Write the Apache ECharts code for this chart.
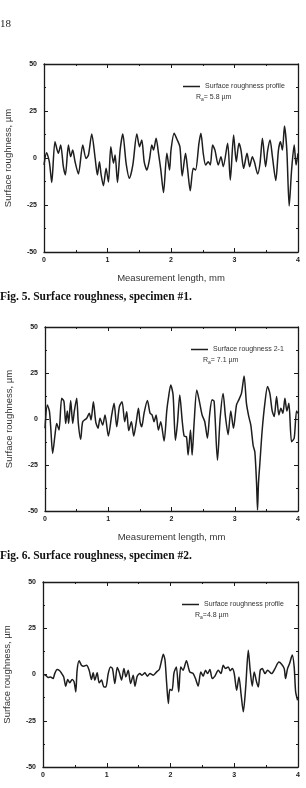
<!DOCTYPE html>
<html>
<head>
<meta charset="utf-8">
<script src="https://cdn.jsdelivr.net/npm/echarts@6/dist/echarts.min.js"></script>
<style>
  html, body { margin: 0; padding: 0; background: #fff; }
  #chart { width: 306px; height: 788px; }
</style>
</head>
<body>
<div id="chart"></div>
<script>
// measured profiles, [length mm, height µm]
const profile1 = [[0,-3.7],[0.04,2.8],[0.084,-2],[0.122,-13],[0.173,8.7],[0.226,2.5],[0.263,6.9],[0.305,-4.6],[0.337,-9],[0.384,6.9],[0.42,0.7],[0.452,4.2],[0.489,-2],[0.542,-8.5],[0.61,6.9],[0.663,-0.2],[0.7,1.6],[0.752,12.8],[0.805,0],[0.841,-9],[0.873,-2],[0.9,-9],[0.936,-14.7],[0.978,-5.5],[1.015,-12.8],[1.052,6],[1.094,-2.8],[1.12,1.6],[1.157,-13],[1.199,4.2],[1.241,12.8],[1.293,-2.8],[1.346,-10.8],[1.399,-3.7],[1.462,12.8],[1.504,6],[1.54,9.6],[1.578,-2],[1.62,-6.4],[1.66,-1],[1.698,6.9],[1.724,4.2],[1.766,10.5],[1.803,2.5],[1.84,-6.4],[1.882,-18.4],[1.935,2.5],[1.977,-6.4],[2.0,4.2],[2.05,13.1],[2.087,10.5],[2.14,6],[2.176,-9.6],[2.229,2.5],[2.26,-5.5],[2.303,-17.4],[2.35,-5.5],[2.387,-6.4],[2.44,7.8],[2.471,13.1],[2.508,2.5],[2.545,-3.7],[2.587,-2],[2.619,-3.7],[2.655,6.9],[2.692,4.2],[2.745,-3.7],[2.787,0.7],[2.823,-4.6],[2.892,7.8],[2.934,-11.7],[2.986,12.2],[3.028,-2],[3.07,7.8],[3.102,4.2],[3.144,-5.5],[3.197,2.5],[3.239,-4.6],[3.281,0.7],[3.313,-2],[3.365,-8.5],[3.402,-2.8],[3.44,10.5],[3.49,-4.6],[3.523,4.2],[3.56,9.6],[3.597,0.7],[3.65,-12],[3.692,4.2],[3.724,8.7],[3.755,4.2],[3.787,17],[3.824,4.2],[3.861,-25.5],[3.9,-6],[3.94,6.9],[3.97,-3.7],[4.0,2.5]];

const profile2 = [[0,-5],[0.037,7.6],[0.069,4.4],[0.09,-4.2],[0.121,-18.7],[0.158,-8.7],[0.185,-2.4],[0.222,-6],[0.264,11.3],[0.3,9.5],[0.327,-2.4],[0.353,4.4],[0.374,-2.4],[0.406,10],[0.438,-2.4],[0.464,4.4],[0.501,11.3],[0.527,-2.4],[0.564,-11],[0.596,-1.5],[0.659,0.4],[0.7,3.1],[0.728,-0.5],[0.765,9.4],[0.802,-1.5],[0.838,-5],[0.87,0.4],[0.912,-3.3],[0.949,2.2],[1.002,-9.3],[1.055,2.2],[1.092,8.5],[1.134,-4.2],[1.176,6.7],[1.218,9.4],[1.26,-1.5],[1.292,3.9],[1.324,-6.3],[1.366,-1.5],[1.403,-9.3],[1.44,-2.4],[1.477,5.8],[1.503,-1.5],[1.53,-4.2],[1.566,3.1],[1.619,10],[1.661,3.1],[1.693,2.2],[1.724,-1.5],[1.756,2.2],[1.793,-6],[1.83,-1.5],[1.883,-12],[1.925,4.4],[1.951,11.3],[1.988,18.5],[2.025,13.1],[2.062,-11.5],[2.094,-2.4],[2.131,13.1],[2.168,-0.5],[2.2,-9.3],[2.236,-9.6],[2.263,-19.6],[2.3,-6],[2.326,-19.6],[2.357,-2.4],[2.4,15.8],[2.447,8.5],[2.484,2.2],[2.526,-1.5],[2.568,-10.4],[2.605,3.1],[2.642,10.4],[2.674,9.5],[2.727,-22.4],[2.769,0.4],[2.816,13.9],[2.853,1.3],[2.895,-8.5],[2.937,4.4],[2.98,-5],[3.027,7.6],[3.064,10.4],[3.106,13.9],[3.148,23.4],[3.185,8.5],[3.222,1.3],[3.254,-3.3],[3.291,-14.4],[3.318,-18],[3.345,-35],[3.36,-49.5],[3.375,-35],[3.397,-24.2],[3.434,-6],[3.476,8.5],[3.518,17.6],[3.555,13.9],[3.592,4.4],[3.624,1.3],[3.661,12.2],[3.698,2.2],[3.729,5.8],[3.761,3.1],[3.793,11.3],[3.824,4.4],[3.856,8.5],[3.898,-12.4],[3.94,-10.4],[3.977,4.4],[4.0,3.1]];

const profile3 = [[0,0],[0.042,-0.4],[0.079,-1.6],[0.116,-1.3],[0.158,-2.2],[0.184,0.5],[0.221,2.7],[0.262,2],[0.294,0.5],[0.325,-1.3],[0.357,-6.3],[0.388,-2.7],[0.42,-4.5],[0.457,-2.7],[0.488,-4],[0.514,-9.4],[0.535,2.3],[0.567,7.4],[0.603,5],[0.64,4.5],[0.682,5],[0.724,2.3],[0.76,-2.7],[0.787,0.9],[0.813,-3],[0.85,0.9],[0.881,-4.5],[0.918,-3],[0.955,-6.7],[0.986,-6.7],[1.023,0.5],[1.059,4.1],[1.09,3.2],[1.127,-4.9],[1.164,3.8],[1.195,1.4],[1.232,-3],[1.269,3.2],[1.3,-1.3],[1.337,2.3],[1.374,-4.9],[1.415,-0.4],[1.442,-6.3],[1.478,-0.9],[1.52,0.5],[1.552,-0.4],[1.599,0.9],[1.636,-0.9],[1.678,0.5],[1.73,-0.4],[1.782,1.4],[1.824,2.7],[1.861,7.7],[1.887,11],[1.914,7.7],[1.94,-4.9],[1.966,-15.7],[1.99,-8],[2.024,-8.6],[2.055,0.9],[2.092,4.1],[2.129,-9.4],[2.16,4.1],[2.197,2.3],[2.25,7.4],[2.302,1.4],[2.355,0.5],[2.392,-2.2],[2.434,-6.3],[2.475,1.4],[2.512,-0.9],[2.549,2.3],[2.581,0.5],[2.618,2.7],[2.655,-2.2],[2.697,-0.9],[2.749,2.3],[2.791,0.5],[2.827,5],[2.864,3.2],[2.906,4.1],[2.937,2],[2.969,3.2],[3.0,0.5],[3.038,-8.5],[3.074,-1.3],[3.106,-10.3],[3.142,-20.2],[3.18,-6.7],[3.22,13.1],[3.25,2.3],[3.282,-6.3],[3.313,1.4],[3.35,-4],[3.377,-6.7],[3.408,2.3],[3.44,3.2],[3.482,0.5],[3.524,2.3],[3.586,0.5],[3.639,3.2],[3.7,6.7],[3.743,5.5],[3.784,3.2],[3.805,-2.2],[3.836,3.2],[3.868,5.9],[3.91,10.5],[3.94,4.1],[3.963,-9.4],[3.994,-13.9]];

const seriesNames = ['Surface roughness profile', 'Surface roughness 2-1', 'Surface roughness profile'];
const raValues = ['= 5.8 µm', '= 7.1 µm', '=4.8 µm'];
const captions = ['Fig. 5. Surface roughness, specimen #1.', 'Fig. 6. Surface roughness, specimen #2.'];
const xTicks = [0, 4, 1];      // min, max, step
const yTicks = [-50, 50, 25];

const grids = [
  { left: 44, top: 64, width: 254, height: 188, outerBoundsMode: 'none' },
  { left: 45, top: 327, width: 253, height: 184, outerBoundsMode: 'none' },
  { left: 43, top: 582, width: 255, height: 185, outerBoundsMode: 'none' }
];
const profiles = [profile1, profile2, profile3];
const showXName = [true, true, false];

const sans = 'Liberation Sans, Arial, sans-serif';
const serif = 'Liberation Serif, Times New Roman, serif';
const ink = '#1a1a1a';

let xAxes = [], yAxes = [], series = [], legends = [], graphics = [];

grids.forEach(function(g, i) {
  const tick = { show: true, inside: true, length: 4, lineStyle: { color: ink, width: 1 } };
  const minor = { show: true, splitNumber: 2, length: 2, lineStyle: { color: ink, width: 1 } };
  const line = { show: true, onZero: false, lineStyle: { color: ink, width: 1.3 } };
  xAxes.push({
    type: 'value', gridIndex: i, min: xTicks[0], max: xTicks[1], interval: xTicks[2],
    axisLine: line, axisTick: tick, minorTick: minor, splitLine: { show: false },
    axisLabel: { fontFamily: sans, fontSize: 7, fontWeight: 'bold', color: ink, margin: 5 },
    name: showXName[i] ? 'Measurement length, mm' : '',
    nameLocation: 'middle', nameGap: 21,
    nameTextStyle: { fontFamily: sans, fontSize: 9.5, color: '#333' }
  });
  xAxes.push({
    type: 'value', gridIndex: i, position: 'top', min: xTicks[0], max: xTicks[1], interval: xTicks[2],
    axisLine: line, axisTick: tick, minorTick: minor, splitLine: { show: false },
    axisLabel: { show: false }
  });
  yAxes.push({
    type: 'value', gridIndex: i, min: yTicks[0], max: yTicks[1], interval: yTicks[2],
    axisLine: line, axisTick: tick, minorTick: minor, splitLine: { show: false },
    axisLabel: { fontFamily: sans, fontSize: 7, fontWeight: 'bold', color: ink, margin: 7 },
    name: 'Surface roughness, µm', nameLocation: 'middle', nameGap: 31,
    nameTextStyle: { fontFamily: sans, fontSize: 9.5, color: '#333' }
  });
  yAxes.push({
    type: 'value', gridIndex: i, position: 'right', min: yTicks[0], max: yTicks[1], interval: yTicks[2],
    axisLine: line, axisTick: tick, minorTick: minor, splitLine: { show: false },
    axisLabel: { show: false }
  });
  series.push({
    name: seriesNames[i], type: 'line', xAxisIndex: i * 2, yAxisIndex: i * 2,
    data: profiles[i], showSymbol: false, symbol: 'none', smooth: 0.25,
    lineStyle: { color: '#1e1e1e', width: 1.5 }, itemStyle: { color: '#1e1e1e' }
  });
  legends.push({
    data: [{ name: seriesNames[i], icon: 'rect' }], left: g.left + (i == 1 ? 146 : 139), top: g.top + 19,
    itemWidth: 17, itemHeight: 1.5, padding: 0, selectedMode: false,
    textStyle: { fontFamily: sans, fontSize: 7, color: '#333' }
  });
  graphics.push({
    type: 'text', left: g.left + (i == 1 ? 158 : 152), top: g.top + 30,
    style: {
      text: '{r|R}{s|a}{r|' + raValues[i] + '}',
      rich: {
        r: { fontFamily: sans, fontSize: 7, fill: '#333' },
        s: { fontFamily: sans, fontSize: 5, fill: '#333', padding: [4, 0, 0, 0] }
      }
    }
  });
});

graphics.push({
  type: 'text', left: 0, top: 19,
  style: { text: '18', font: '11px ' + serif, fill: '#222' }
});
graphics.push({
  type: 'text', left: 0, top: 291,
  style: { text: captions[0], font: 'bold 11.5px ' + serif, fill: '#111' }
});
graphics.push({
  type: 'text', left: 0, top: 550,
  style: { text: captions[1], font: 'bold 11.5px ' + serif, fill: '#111' }
});

const chart = echarts.init(document.getElementById('chart'));
chart.setOption({
  animation: false,
  backgroundColor: '#fff',
  grid: grids,
  xAxis: xAxes,
  yAxis: yAxes,
  series: series,
  legend: legends,
  graphic: graphics
});
</script>
</body>
</html>
